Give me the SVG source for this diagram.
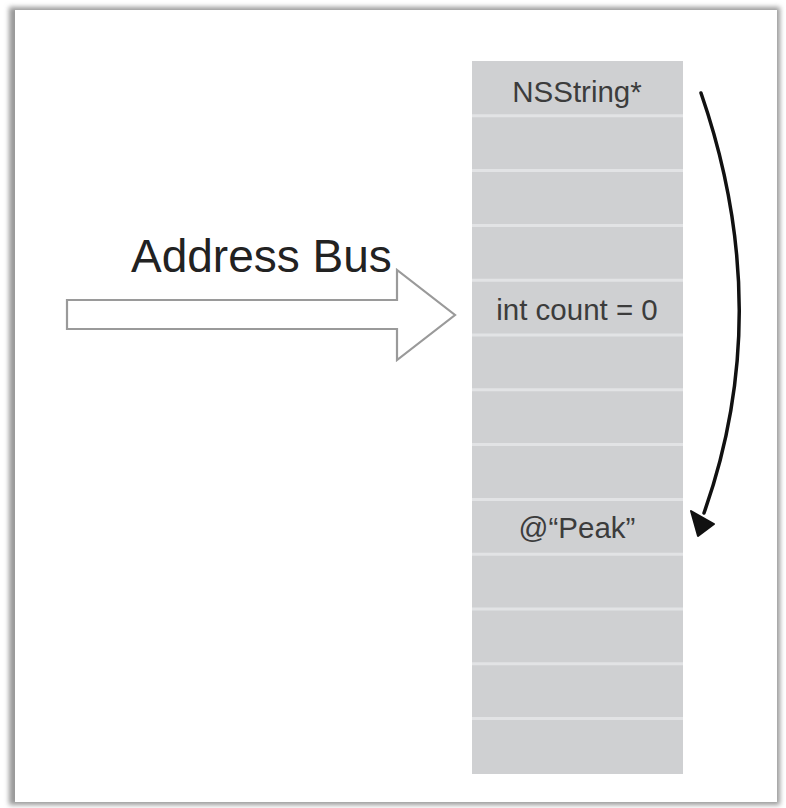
<svg xmlns="http://www.w3.org/2000/svg" width="786" height="808" viewBox="0 0 786 808">
<defs>
<filter id="shadow" x="-5%" y="-5%" width="110%" height="110%"><feGaussianBlur stdDeviation="2.5"/></filter>
</defs>
<style>
.cell{fill:#cfd0d2}
.div{stroke:#e2e3e5;stroke-width:3}
.lbl{font-family:"Liberation Sans",Arial,sans-serif;font-size:29.5px;fill:#3c3c3c;text-anchor:middle}
.bus{font-family:"Liberation Sans",Arial,sans-serif;font-size:46px;fill:#222222}
</style>
<rect x="0" y="0" width="786" height="808" fill="#ffffff"/>
<rect x="9" y="7" width="771" height="798" fill="#9a9a9a" filter="url(#shadow)"/>
<rect x="15" y="10" width="762" height="792" fill="#ffffff"/>
<g id="memory">
<rect class="cell" x="472" y="61" width="211" height="713"/>
<g id="dividers">
<line class="div" x1="472" y1="115.8" x2="683" y2="115.8"/>
<line class="div" x1="472" y1="170.6" x2="683" y2="170.6"/>
<line class="div" x1="472" y1="225.4" x2="683" y2="225.4"/>
<line class="div" x1="472" y1="280.2" x2="683" y2="280.2"/>
<line class="div" x1="472" y1="335" x2="683" y2="335"/>
<line class="div" x1="472" y1="389.8" x2="683" y2="389.8"/>
<line class="div" x1="472" y1="444.6" x2="683" y2="444.6"/>
<line class="div" x1="472" y1="499.4" x2="683" y2="499.4"/>
<line class="div" x1="472" y1="554.2" x2="683" y2="554.2"/>
<line class="div" x1="472" y1="609" x2="683" y2="609"/>
<line class="div" x1="472" y1="663.8" x2="683" y2="663.8"/>
<line class="div" x1="472" y1="718.6" x2="683" y2="718.6"/>
</g>
</g>
<g id="cell-nsstring"><text class="lbl" x="577" y="102">NSString*</text></g>
<g id="cell-int"><text class="lbl" x="577" y="320">int count = 0</text></g>
<g id="cell-peak"><text class="lbl" x="577" y="538">@“Peak”</text></g>
<g id="address-bus">
<polygon points="67,300 397,300 397,270 455,315 397,360 397,329 67,329" fill="#ffffff" stroke="#9a9a9a" stroke-width="2.2" stroke-linejoin="miter"/>
<text class="bus" x="131" y="272">Address Bus</text>
</g>
<g id="connectors">
<path d="M701,93 Q776,310 704,513" fill="none" stroke="#111111" stroke-width="3.5" stroke-linecap="round"/>
<polygon points="691,511 714,524 698,536" fill="#111111" stroke="#111111" stroke-width="2" stroke-linejoin="round"/>
</g>
</svg>
